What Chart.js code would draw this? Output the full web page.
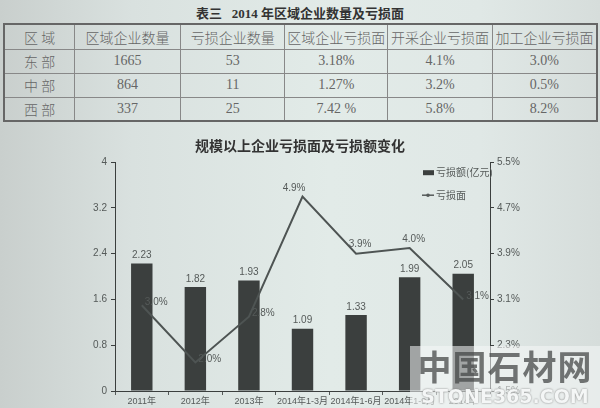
<!DOCTYPE html>
<html>
<head>
<meta charset="utf-8">
<script src="https://cdn.jsdelivr.net/npm/chart.js@4"></script>
<style>
  html, body { margin: 0; padding: 0; }
  body {
    width: 600px; height: 408px; position: relative; overflow: hidden;
    background: linear-gradient(90deg, #c9cfcd 0%, #d9e1df 22%, #e2ebe8 55%, #e0e8e6 80%, #d6dddb 100%);
    font-family: "Liberation Serif", "Noto Sans CJK SC", serif;
  }
  #tblTitle {
    position: absolute; left: 0; top: 3px; width: 600px; text-align: center;
    font: bold 13px "Liberation Serif", "Noto Sans CJK SC", serif; color: #333;
  }
  table {
    position: absolute; left: 3px; top: 23px; width: 595px; height: 97px;
    border-collapse: collapse; border: 2px solid #666; color: #666;
  }
  td { border: 1px solid #888; text-align: center; font-size: 14px; padding: 0; }
  #wrap { position: absolute; left: 0; top: 125px; width: 600px; height: 283px; }
  #mark {
    position: absolute; left: 410px; top: 346px; width: 190px; height: 62px;
    background: rgba(245, 248, 247, 0.55); text-align: center;
  }
  #mark .cn { font: bold 34px "Noto Sans CJK SC", sans-serif; color: rgba(70, 72, 72, 0.75); line-height: 40px; letter-spacing: 1px; }
  #mark .en { font: bold 19px "DejaVu Sans", sans-serif; color: #f4f6f6; line-height: 20px; text-shadow: 0 0 2px #777; }
</style>
</head>
<body>
<div id="tblTitle">表三&nbsp;&nbsp;&nbsp;2014 年区域企业数量及亏损面</div>
<table id="tbl"></table>
<div id="wrap"><canvas id="lossChart"></canvas></div>
<div id="mark"><div class="cn">中国石材网</div><div class="en">STONE365.COM</div></div>
<script>
// table data
const tableHead = ['区 域', '区域企业数量', '亏损企业数量', '区域企业亏损面', '开采企业亏损面', '加工企业亏损面']
const regions = ['东 部', '中 部', '西 部']
const companyCount = ['1665', '864', '337']
const lossCompanyCount = ['53', '11', '25']
const regionLossRate = ['3.18%', '1.27%', '7.42 %']
const miningLossRate = ['4.1%', '3.2%', '5.8%']
const processLossRate = ['3.0%', '0.5%', '8.2%']

// chart data
const periods = ['2011年', '2012年', '2013年', '2014年1-3月', '2014年1-6月', '2014年1-9月', '2014年']
const lossAmount = [2.23, 1.82, 1.93, 1.09, 1.33, 1.99, 2.05]   // 亏损额(亿元)
const lossRate = [3.0, 2.0, 2.8, 4.9, 3.9, 4.0, 3.1]            // 亏损面 %
const leftTicks = [0, 0.8, 1.6, 2.4, 3.2, 4]
const rightTicks = [1.5, 2.3, 3.1, 3.9, 4.7, 5.5]

// build table
const tbl = document.getElementById('tbl')
const colX = [3, 74, 180, 285, 388, 493, 598]
let html = '<colgroup>'
for (let i = 0; i < 6; i++) html += '<col style="width:' + (colX[i + 1] - colX[i]) + 'px">'
html += '</colgroup><tr style="height:25px">'
tableHead.forEach(h => { html += '<td style="font-family:\'Noto Sans CJK SC\';font-weight:300">' + h + '</td>' })
html += '</tr>'
regions.forEach((r, i) => {
  html += '<tr style="height:24px"><td style="font-family:\'Noto Sans CJK SC\';font-weight:300">' + r + '</td>'
  ;[companyCount, lossCompanyCount, regionLossRate, miningLossRate, processLossRate].forEach(col => {
    html += '<td>' + col[i] + '</td>'
  })
  html += '</tr>'
})
tbl.innerHTML = html

const inkDark = '#3b3f3e'
const inkText = '#555a59'
const lineLabelPos = ['right', 'right', 'right', 'topLeft', 'top', 'top', 'right']

// value labels + legend drawn by hand
const labelPlugin = {
  id: 'labelPlugin',
  afterDatasetsDraw(chart) {
    const ctx = chart.ctx
    ctx.save()
    ctx.font = '10px "Liberation Sans", Arial, sans-serif'
    ctx.fillStyle = inkText
    const barMeta = chart.getDatasetMeta(0)
    barMeta.data.forEach((bar, i) => {
      ctx.textAlign = 'center'
      ctx.textBaseline = 'bottom'
      ctx.fillText(lossAmount[i].toFixed(2), bar.x, bar.y - 3)
    })
    const lineMeta = chart.getDatasetMeta(1)
    lineMeta.data.forEach((pt, i) => {
      const txt = lossRate[i].toFixed(1) + '%'
      const pos = lineLabelPos[i]
      if (pos === 'right') {
        ctx.textAlign = 'left'; ctx.textBaseline = 'middle'
        ctx.fillText(txt, pt.x + 3, pt.y - 3)
      } else if (pos === 'topLeft') {
        ctx.textAlign = 'right'; ctx.textBaseline = 'bottom'
        ctx.fillText(txt, pt.x + 3, pt.y - 3)
      } else {
        ctx.textAlign = 'center'; ctx.textBaseline = 'bottom'
        ctx.fillText(txt, pt.x + 4, pt.y - 4)
      }
    })

    // legend
    const a = chart.chartArea
    const lx = a.right - 67
    ctx.font = '10px "Noto Sans CJK SC", sans-serif'
    ctx.textAlign = 'left'
    ctx.textBaseline = 'middle'
    ctx.fillStyle = inkDark
    ctx.fillRect(lx, a.top + 8, 11, 5)
    ctx.fillStyle = inkText
    ctx.fillText(chart.data.datasets[0].label, lx + 13, a.top + 10)
    ctx.strokeStyle = inkText
    ctx.lineWidth = 1.5
    ctx.beginPath()
    ctx.moveTo(lx - 1, a.top + 33)
    ctx.lineTo(lx + 11, a.top + 33)
    ctx.stroke()
    ctx.fillStyle = inkText
    ctx.beginPath()
    ctx.arc(lx + 5, a.top + 33, 1.8, 0, Math.PI * 2)
    ctx.fill()
    ctx.fillText(chart.data.datasets[1].label, lx + 13, a.top + 33)
    ctx.restore()
  }
}

const lossChart = document.getElementById('lossChart')

new Chart(lossChart, {
  type: 'bar',
  data: {
    labels: periods,
    datasets: [
      {
        label: '亏损额(亿元)',
        data: lossAmount,
        backgroundColor: inkDark,
        categoryPercentage: 1,
        barPercentage: 0.4,
        yAxisID: 'y',
        order: 2,
      },
      {
        type: 'line',
        label: '亏损面',
        data: lossRate,
        borderColor: '#4e5453',
        borderWidth: 2,
        pointRadius: 0,
        tension: 0,
        yAxisID: 'y1',
        order: 1,
      }
    ]
  },
  options: {
    responsive: true,
    maintainAspectRatio: false,
    animation: false,
    layout: { padding: 0 },
    plugins: {
      legend: { display: false },
      tooltip: { enabled: false },
      title: {
        display: true,
        text: '规模以上企业亏损面及亏损额变化',
        color: '#333',
        font: { size: 14, weight: 'bold', family: '"Noto Sans CJK SC", sans-serif', lineHeight: 1.3 },
        padding: { top: 12, bottom: 7 },
      },
    },
    scales: {
      x: {
        grid: { display: true, drawOnChartArea: false, drawTicks: true, tickLength: 4, color: inkText, offset: true },
        border: { color: inkDark, width: 1 },
        ticks: { color: inkText, padding: 1, maxRotation: 0, autoSkip: false, font: { size: 9, family: '"Liberation Sans", "Noto Sans CJK SC", sans-serif' } },
        afterFit(s) { s.height = 17 },
      },
      y: {
        position: 'left',
        min: 0,
        max: 4,
        afterBuildTicks(s) { s.ticks = leftTicks.map(v => ({ value: v })) },
        grid: { drawOnChartArea: false, drawTicks: true, tickLength: 4, color: inkDark },
        border: { color: inkDark, width: 1 },
        ticks: {
          color: inkText, padding: 4,
          font: { size: 10, family: '"Liberation Sans", Arial, sans-serif' },
          callback: v => String(Number(v.toFixed(1))),
        },
        afterFit(s) { s.width = 115 },
      },
      y1: {
        position: 'right',
        min: 1.5,
        max: 5.5,
        afterBuildTicks(s) { s.ticks = rightTicks.map(v => ({ value: v })) },
        grid: { drawOnChartArea: false, drawTicks: true, tickLength: 4, color: inkDark },
        border: { color: inkDark, width: 1 },
        ticks: {
          color: inkText, padding: 3,
          font: { size: 10, family: '"Liberation Sans", Arial, sans-serif' },
          callback: v => v.toFixed(1) + '%',
        },
        afterFit(s) { s.width = 110 },
      },
    }
  },
  plugins: [labelPlugin]
});
</script>
</body>
</html>
